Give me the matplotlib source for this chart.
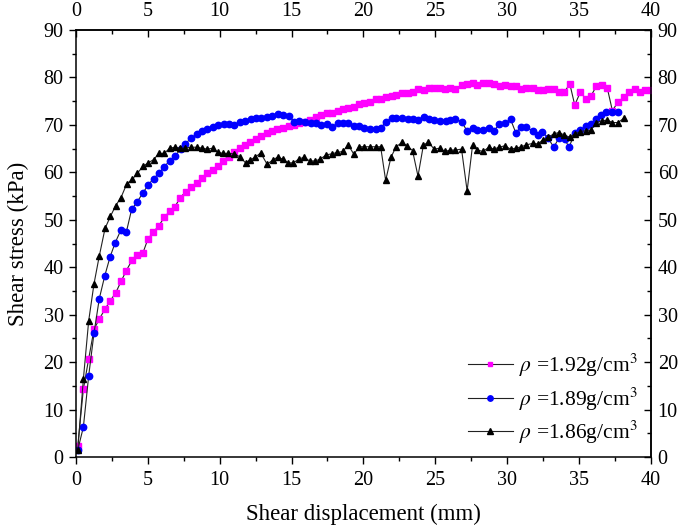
import matplotlib
matplotlib.use("Agg")
import matplotlib.pyplot as plt
from matplotlib.ticker import MultipleLocator

plt.rcParams['font.family'] = ['Liberation Serif', 'DejaVu Serif']
plt.rcParams['mathtext.fontset'] = 'stix'

# ---- data ----
x_192 = [0.12, 0.51, 0.88, 1.25, 1.62, 2.0, 2.37, 2.76, 3.13, 3.50, 3.90, 4.26, 4.64, 5.01, 5.38, 5.75,
         6.14, 6.52, 6.89, 7.26, 7.63, 8.0, 8.39, 8.77, 9.14, 9.51, 9.88, 10.25, 10.62, 11.0, 11.38,
         11.75, 12.12, 12.5, 12.88, 13.27, 13.62, 14.0, 14.4, 14.8, 15.19, 15.54, 15.93, 16.28, 16.67,
         17.04, 17.44, 17.83, 18.2, 18.6, 18.94, 19.34, 19.69, 20.06, 20.45, 20.85, 21.2, 21.57, 21.96,
         22.3, 22.7, 23.1, 23.45, 23.8, 24.2, 24.56, 24.93, 25.32, 25.67, 26.06, 26.4, 26.83, 27.22,
         27.6, 27.94, 28.33, 28.73, 29.1, 29.5, 29.84, 30.24, 30.6, 31.0, 31.35, 31.77, 32.16, 32.5,
         32.86, 33.25, 33.6, 33.97, 34.37, 34.71, 35.1, 35.48, 35.82, 36.22, 36.6, 36.98, 37.33, 37.73,
         38.12, 38.5, 38.9, 39.24, 39.63, 40.0]
y_192 = [2.3, 14.3, 20.7, 26.9, 29.1, 31.1, 32.9, 34.6, 37.0, 39.3, 41.5, 42.5, 42.9, 46.0, 47.4, 48.7,
         50.5, 51.8, 52.8, 54.7, 55.9, 56.9, 57.8, 58.8, 59.8, 60.6, 61.3, 62.4, 63.3, 64.2, 65.1,
         65.7, 66.4, 67.1, 67.6, 68.2, 68.8, 69.1, 69.4, 69.8, 70.0, 70.3, 70.7, 71.0, 71.6,
         72.1, 72.6, 72.6, 73.0, 73.3, 73.5, 73.85, 74.4, 74.7, 74.9, 75.4, 75.4, 75.8, 76.0,
         76.3, 76.7, 76.8, 77.0, 77.5, 77.3, 77.7, 77.7, 77.7, 77.6, 77.7, 77.6, 78.4, 78.6,
         78.9, 78.4, 78.9, 78.8, 78.6, 78.2, 78.4, 78.1, 78.3, 77.6, 77.7, 77.7, 77.4, 77.4,
         77.5, 77.5, 76.9, 76.9, 78.6, 74.2, 76.9, 75.5, 76.0, 78.2, 78.4, 77.7, 73.0, 74.9,
         75.8, 76.9, 77.5, 77.0, 77.4, 77.4]

x_189 = [0.12, 0.51, 0.88, 1.25, 1.62, 2.0, 2.37, 2.73, 3.13, 3.50, 3.87, 4.26, 4.64, 5.01, 5.40, 5.77,
         6.14, 6.54, 6.91, 7.28, 7.6, 8.0, 8.39, 8.77, 9.14, 9.51, 9.9, 10.28, 10.65, 11.02, 11.4,
         11.78, 12.15, 12.52, 12.9, 13.27, 13.65, 14.03, 14.42, 14.8, 15.19, 15.54, 15.93, 16.32,
         16.67, 17.04, 17.44, 17.83, 18.2, 18.6, 18.94, 19.34, 19.69, 20.06, 20.45, 20.85, 21.2,
         21.57, 21.96, 22.3, 22.7, 23.1, 23.45, 23.8, 24.2, 24.56, 24.93, 25.32, 25.72, 26.06, 26.4,
         26.83, 27.22, 27.6, 27.94, 28.33, 28.73, 29.08, 29.45, 29.84, 30.24, 30.6, 31.0, 31.35,
         31.77, 32.12, 32.46, 32.86, 33.25, 33.62, 34.0, 34.32, 34.71, 35.1, 35.48, 35.83, 36.22,
         36.57, 36.92, 37.33, 37.73]
y_189 = [1.5, 6.3, 17.1, 26.1, 33.4, 38.2, 42.2, 45.2, 47.9, 47.4, 52.2, 53.8, 55.6, 57.3, 58.7, 59.8,
         61.2, 62.5, 63.5, 64.9, 66.0, 67.2, 68.0, 68.8, 69.2, 69.6, 70.0, 70.2, 70.2, 70.0, 70.6,
         70.9, 71.3, 71.4, 71.4, 71.6, 71.9, 72.2, 72.0, 71.9, 70.7, 70.8, 70.7, 70.5,
         70.5, 70.0, 70.2, 69.6, 70.3, 70.3, 70.3, 69.8, 69.8, 69.3, 69.1, 69.1, 69.3,
         70.7, 71.4, 71.4, 71.4, 71.2, 71.2, 71.0, 71.6, 71.2, 71.0, 70.9, 70.8, 71.0, 71.2,
         70.7, 68.7, 69.3, 68.9, 68.9, 69.4, 68.7, 70.1, 70.3, 71.2, 68.4, 69.6, 69.6,
         68.7, 67.9, 68.6, 67.2, 65.3, 67.3, 67.0, 65.3, 68.4, 68.9, 69.8, 70.1, 71.2,
         72.1, 72.8, 72.8, 72.8]

x_186 = [0.12, 0.51, 0.88, 1.25, 1.62, 2.02, 2.39, 2.76, 3.13, 3.52, 3.90, 4.27, 4.66, 5.03, 5.40, 5.77,
         6.14, 6.52, 6.89, 7.24, 7.58, 7.98, 8.39, 8.77, 9.14, 9.51, 9.88, 10.25, 10.6, 11.0, 11.4,
         11.8, 12.1, 12.47, 12.85, 13.3, 13.68, 14.03, 14.4, 14.77, 15.12, 15.51, 15.88, 16.25,
         16.65, 17.0, 17.42, 17.8, 18.17, 18.57, 18.94, 19.34, 19.7, 20.06, 20.45, 20.85, 21.2,
         21.55, 21.92, 22.28, 22.68, 23.03, 23.42, 23.8, 24.18, 24.53, 24.93, 25.32, 25.67, 26.06,
         26.4, 26.83, 27.22, 27.6, 27.94, 28.33, 28.73, 29.08, 29.45, 29.84, 30.24, 30.6, 31.0,
         31.35, 31.77, 32.16, 32.47, 32.86, 33.25, 33.6, 33.97, 34.37, 34.71, 35.1, 35.48, 35.82,
         36.22, 36.6, 36.98, 37.33, 37.73, 38.12]
y_186 = [1.5, 16.4, 28.7, 36.5, 42.4, 48.2, 50.7, 53.0, 54.7, 57.5, 58.5, 59.8, 61.3, 62.0, 62.7, 64.0,
         64.0, 65.1, 65.3, 65.1, 65.1, 65.3, 65.3, 65.1, 64.9, 65.1, 64.2, 64.0, 64.0, 63.9, 63.3,
         62.0, 62.6, 63.2, 64.1, 61.7, 62.6, 63.2, 62.8, 62.0, 62.0, 62.8, 63.2, 62.4,
         62.4, 62.8, 63.7, 63.9, 64.2, 64.4, 65.8, 63.8, 65.4, 65.4, 65.4, 65.4, 65.4,
         58.3, 63.2, 65.4, 66.3, 65.6, 64.6, 59.2, 65.8, 66.3, 64.9, 65.1, 64.4, 64.7,
         64.7, 64.9, 56.1, 65.8, 64.7, 64.4, 65.3, 64.9, 65.3, 65.6, 64.9, 65.1, 65.4,
         65.8, 66.1, 66.0, 66.8, 67.4, 68.1, 68.4, 67.9, 67.4, 68.1, 68.6, 68.8, 68.9,
         70.5, 70.9, 71.0, 70.5, 70.5, 71.4]

labels = [r'$\rho$ =1.92g/cm$^3$', r'$\rho$ =1.89g/cm$^3$', r'$\rho$ =1.86g/cm$^3$']
x_ticks = [0, 5, 10, 15, 20, 25, 30, 35, 40]
y_ticks = [0, 10, 20, 30, 40, 50, 60, 70, 80, 90]

fig = plt.figure(figsize=(6.85, 5.27), dpi=100)
ax = fig.add_axes([0.111, 0.1328, 0.839, 0.8102])

ax.plot(x_192, y_192, color='#222222', lw=0.8, marker='s', ms=4.0,
        mfc='#FF00FF', mec='#FF00FF', label=labels[0])
ax.plot(x_189, y_189, color='#222222', lw=0.8, marker='o', ms=4.6,
        mfc='#0000FF', mec='#0000FF', label=labels[1])
ax.plot(x_186, y_186, color='#222222', lw=0.8, marker='^', ms=4.8,
        mfc='black', mec='black', label=labels[2])

ax.set_xlim(0, 40)
ax.set_ylim(0, 90)
ax.set_xticks(x_ticks)
ax.set_yticks(y_ticks)
ax.xaxis.set_minor_locator(MultipleLocator(2.5))
ax.yaxis.set_minor_locator(MultipleLocator(5))
ax.tick_params(axis='both', which='major', direction='out', length=5, width=1.0,
               labelsize=14.5, pad=4)
ax.tick_params(axis='both', which='minor', direction='out', length=3, width=1.0)
ax.tick_params(axis='x', pad=5)

for sp in ax.spines.values():
    sp.set_linewidth(1.1)

secx = ax.secondary_xaxis('top')
secx.set_xticks(x_ticks)
secx.xaxis.set_minor_locator(MultipleLocator(2.5))
secx.tick_params(which='major', direction='in', length=5, width=1.0, labelsize=14.5, pad=6.5)
secx.tick_params(which='minor', direction='in', length=3, width=1.0)
secx.spines['top'].set_linewidth(1.1)

secy = ax.secondary_yaxis('right')
secy.set_yticks(y_ticks)
secy.yaxis.set_minor_locator(MultipleLocator(5))
secy.tick_params(which='major', direction='in', length=5, width=1.0, labelsize=14.5, pad=5)
secy.tick_params(which='minor', direction='in', length=3, width=1.0)
secy.spines['right'].set_linewidth(1.1)

ax.set_xlabel('Shear displacement (mm)', fontsize=16.5, labelpad=10)
ax.set_ylabel('Shear stress (kPa)', fontsize=16.5, labelpad=10)

leg = ax.legend(loc='lower right', bbox_to_anchor=(1.0, -0.005), frameon=False, fontsize=15.5,
                handlelength=2.1, handletextpad=0.3, labelspacing=0.3, borderaxespad=0.2,
                markerscale=0.85)

fig.savefig('out.png', dpi=100)
